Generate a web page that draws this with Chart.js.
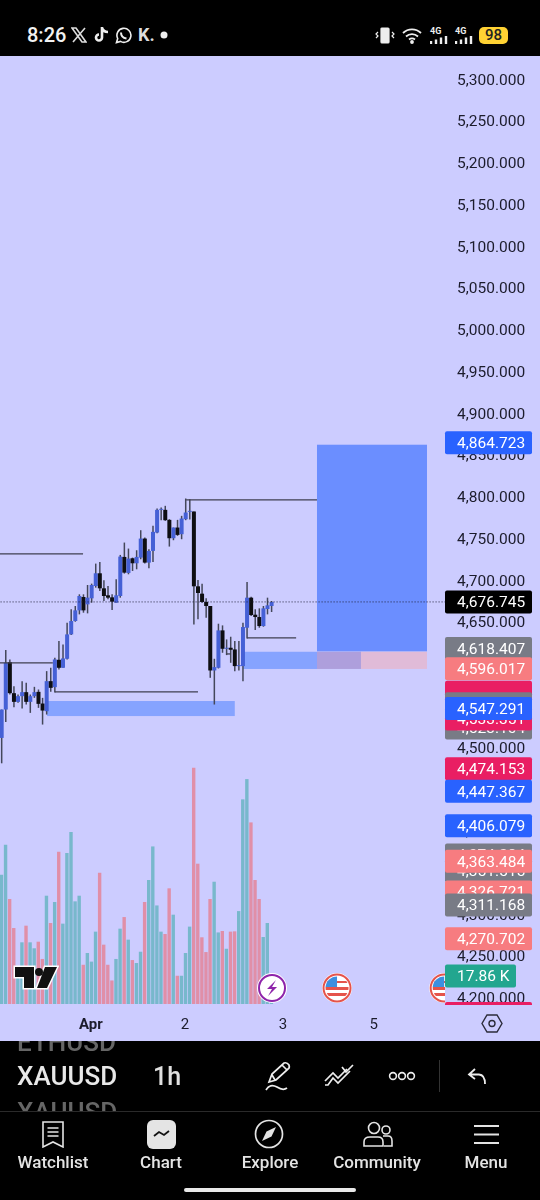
<!DOCTYPE html>
<html>
<head>
<meta charset="utf-8">
<title>XAUUSD 1h</title>
<script src="https://cdn.jsdelivr.net/npm/chart.js@4"></script>
<style>
  html, body { margin: 0; padding: 0; background: #000; }
  body { width: 540px; height: 1200px; position: relative; overflow: hidden; font-family: Roboto, sans-serif; color: #e6e6e6; }
  .abs { position: absolute; white-space: nowrap; }
  #wrap { position: absolute; left: 0; top: 56px; width: 540px; height: 985px; background: #ccccff; }
  .clip { position: absolute; overflow: hidden; left: 17px; width: 120px; }
  .nav { position: absolute; top: 1152px; width: 100px; text-align: center; font-size: 17px; font-weight: 500; color: #e4e4e4; }
  svg { position: absolute; }
</style>
</head>
<body>

<!-- status bar -->
<div class="abs" style="left:27px;top:23px;font-size:20px;font-weight:500;color:#f2f2f2">8:26</div>
<svg style="left:71px;top:27px" width="16" height="16" viewBox="0 0 16 16" fill="none" stroke="#ddd" stroke-width="1.6"><path d="M1 1 L11 15 H15 L5 1 Z M14 1 L2 15"/></svg>
<svg style="left:94px;top:26px" width="15" height="17" viewBox="0 0 15 17" fill="none" stroke="#eee" stroke-width="2.6"><path d="M8 1 V11.5 A3 3 0 1 1 5 8.5 M8 2 C9 5 11 6 14 6"/></svg>
<svg style="left:115px;top:27px" width="17" height="17" viewBox="0 0 17 17" fill="none" stroke="#eee" stroke-width="1.6"><path d="M1.5 15.5 L2.7 11.5 A7 7 0 1 1 5.5 14.4 Z"/><path d="M6 5.5 C6 9 8 11 11.5 11.5" stroke-width="2"/></svg>
<div class="abs" style="left:138px;top:24px;font-size:18px;font-weight:700;color:#ddd">K.</div>
<svg style="left:160px;top:31px" width="8" height="8"><circle cx="4" cy="4" r="3.5" fill="#eee"/></svg>
<svg style="left:375px;top:27px" width="20" height="17" viewBox="0 0 20 17" fill="none" stroke="#eee" stroke-width="1.2"><rect x="6" y="1" width="8" height="15" rx="1" fill="#eee"/><path d="M3 5 L1 7 L3 9 L1 11 M17 5 L19 7 L17 9 L19 11"/></svg>
<svg style="left:402px;top:27px" width="21" height="17" viewBox="0 0 21 17" fill="none" stroke="#eee" stroke-width="1.8"><path d="M1 6 A13 13 0 0 1 19 6 M4 9.5 A9 9 0 0 1 16 9.5 M7 12.5 A5 5 0 0 1 13 12.5"/><circle cx="10" cy="15" r="1" fill="#eee"/></svg>
<div class="abs" style="left:430px;top:26px;font-size:9px;font-weight:700;color:#eee">4G</div>
<svg style="left:430px;top:36px" width="18" height="9"><path d="M1 8V5M6 8V3.5M11 8V1.5M16 8V0" stroke="#eee" stroke-width="2.4"/></svg>
<div class="abs" style="left:455px;top:26px;font-size:9px;font-weight:700;color:#eee">4G</div>
<svg style="left:455px;top:36px" width="18" height="9"><path d="M1 8V5M6 8V3.5M11 8V1.5M16 8V0" stroke="#eee" stroke-width="2.4"/></svg>
<div class="abs" style="left:479px;top:27px;width:29px;height:17px;line-height:17px;background:#ffd233;border-radius:5px;color:#222;font-size:15px;font-weight:500;text-align:center">98</div>

<div id="wrap"><canvas id="chart" width="540" height="985"></canvas></div>

<!-- trading view mark -->
<svg width="46" height="27" viewBox="0 0 46 27" style="left:13px;top:964px">
  <path d="M2 3 H21 V24 H11 V13 H2 Z M32 3 H44 L34 24 H24 Z" fill="#111" stroke="#fff" stroke-width="3" paint-order="stroke"/>
  <circle cx="26" cy="8" r="4" fill="#111"/>
</svg>

<!-- settings hexagon -->
<svg style="left:481px;top:1013px" width="22" height="21" viewBox="0 0 22 21" fill="none" stroke="#2b2b3a" stroke-width="1.4"><path d="M6 2 H16 L21 10.5 L16 19 H6 L1 10.5 Z"/><circle cx="11" cy="10.5" r="3"/></svg>

<!-- symbol strip -->
<div class="clip" style="top:1041px;height:15px;font-size:26px;font-weight:500;color:#666;line-height:15px"><div style="margin-top:-6px">ETHUSD</div></div>
<div class="abs" style="left:17px;top:1061px;font-size:26px;font-weight:500;color:#e8e8e8">XAUUSD</div>
<div class="abs" style="left:153px;top:1062px;font-size:25px;font-weight:500;color:#e0e0e0">1h</div>
<div class="clip" style="top:1098px;height:13px;font-size:26px;font-weight:500;color:#666;line-height:28px">XAUUSD</div>

<svg style="left:262px;top:1060px" width="30" height="34" viewBox="0 0 30 34" fill="none" stroke="#eee" stroke-width="1.7"><path d="M7 22 L10 14 L22 3 Q25 2 27 5 Q28 8 26 9 L14 20 Z M20 5 L25 10 M10 15 L13 20"/><path d="M4 30 Q8 23 15 27 Q21 31 25 28"/></svg>
<svg style="left:323px;top:1062px" width="32" height="26" viewBox="0 0 32 26" fill="none" stroke="#eee" stroke-width="1.7"><path d="M2 19 L10 11 L15 16 L24 7 M2 23 L5 23 L10 16 L15 21 L27 9"/><path d="M19 5 L23 10 L30 3"/></svg>
<svg style="left:388px;top:1070px" width="28" height="12" fill="none" stroke="#eee" stroke-width="1.6"><circle cx="5" cy="6" r="3.4"/><circle cx="14" cy="6" r="3.4"/><circle cx="23" cy="6" r="3.4"/></svg>
<div class="abs" style="left:439px;top:1060px;width:1px;height:32px;background:#333"></div>
<svg style="left:467px;top:1067px" width="20" height="18" fill="none" stroke="#eee" stroke-width="1.8"><path d="M8 2 L2 7.5 L8 12 M2 7.5 H12 Q18 8 18 17"/></svg>
<div class="abs" style="left:0;top:1111px;width:540px;height:1px;background:#2a2a2a"></div>

<!-- bottom navigation -->
<svg style="left:42px;top:1121px" width="22" height="27" viewBox="0 0 22 27" fill="none" stroke="#e4e4e4" stroke-width="1.6"><path d="M1 1 H21 V26 L11 21 L1 26 Z M5.5 7 H16.5 M5.5 11 H16.5 M5.5 15 H16.5"/></svg>
<svg style="left:147px;top:1120px" width="29" height="29" viewBox="0 0 29 29"><rect width="29" height="29" rx="6" fill="#e4e4e4"/><path d="M7 16 L12 12 L17 15 L22 11" fill="none" stroke="#111" stroke-width="1.8"/></svg>
<svg style="left:254px;top:1119px" width="30" height="30" viewBox="0 0 30 30" fill="none" stroke="#e4e4e4" stroke-width="1.7"><circle cx="15" cy="15" r="13.5"/><path d="M22 8 L17.5 17.5 L8 22 L12.5 12.5 Z" fill="#e4e4e4" stroke="none"/></svg>
<svg style="left:363px;top:1121px" width="30" height="26" viewBox="0 0 30 26" fill="none" stroke="#e4e4e4" stroke-width="1.6"><circle cx="11" cy="7" r="5.5"/><circle cx="23" cy="9" r="4"/><path d="M1 25 V21 Q1 16 7 16 H15 Q20 16 20 21 V25 Z M20 15 H25 Q29 15 29 20 V25 H21"/></svg>
<svg style="left:474px;top:1124px" width="25" height="21" fill="none" stroke="#e4e4e4" stroke-width="2.2"><path d="M0 2 H25 M0 10.5 H25 M0 19 H25"/></svg>
<div class="nav" style="left:3px">Watchlist</div>
<div class="nav" style="left:111px">Chart</div>
<div class="nav" style="left:220px">Explore</div>
<div class="nav" style="left:327px">Community</div>
<div class="nav" style="left:436px">Menu</div>
<div class="abs" style="left:184px;top:1188px;width:172px;height:4px;border-radius:2px;background:#e8e8e8"></div>

<script>
// candles, oldest first
const opens = [4511.2,4545.2,4602,4564.8,4554.4,4561.2,4566,4554.4,4561.2,4566.4,4552.4,4543.2,4579.2,4572,4604.8,4595.2,4606,4635.2,4651.2,4664,4680,4671.2,4678.4,4693.2,4708.4,4690.4,4682,4679.6,4673.2,4681.2,4728,4708.8,4726.4,4720.4,4727.2,4750,4721.2,4735.2,4757.2,4784.4,4784.4,4772.4,4750.4,4763.2,4755.2,4773.2,4782,4782.4,4692.8,4684,4674,4669.2,4592,4595.2,4640,4618,4619.2,4617.2,4597.2,4597.2,4643.2,4679.2,4658.8,4656,4645.2,4665.6,4669.2];
const highs = [4545.2,4616.4,4605.2,4573.2,4563.2,4579.2,4577.2,4563.2,4572.4,4569.2,4559.2,4591.2,4595.2,4607.2,4627.2,4623.2,4649.2,4665.2,4669.2,4683.2,4683.2,4694.4,4696,4720,4722,4700,4693.2,4683.2,4701.2,4730.4,4745.2,4738,4727.2,4736,4760,4751.2,4737.2,4765.2,4786,4787.2,4789.2,4773.2,4763.2,4772.4,4777.2,4798,4797.2,4782.4,4700.4,4696,4678.4,4669.2,4606,4648,4646,4629.2,4632.4,4627.2,4627.2,4649.2,4698,4680.4,4665.2,4666.4,4669.2,4679.2,4675.2];
const lows = [4480.8,4530.4,4563.2,4548,4553.2,4546.4,4551.2,4541.2,4559.2,4547.2,4527.2,4539.2,4566.4,4565.6,4593.2,4595.2,4605.2,4634.4,4650.4,4659.2,4661.2,4660.4,4673.2,4691.2,4687.2,4675.2,4677.2,4664.4,4673.2,4679.2,4708,4707.2,4711.2,4713.2,4725.2,4720,4714.4,4722,4756.4,4772,4771.2,4740.4,4748,4753.2,4749.2,4772,4772.8,4647.2,4653.2,4673.2,4655.2,4583.2,4551.2,4594.4,4613.2,4610.4,4601.2,4591.2,4592,4579.2,4630.4,4657.2,4640.4,4643.2,4644.4,4659.2,4662];
const closes = [4545.2,4601.2,4564.8,4554.4,4561.2,4566,4554.4,4561.2,4566,4552,4544,4579.2,4571.2,4605.2,4595.2,4606.4,4635.2,4651.2,4664,4681.2,4664,4679.2,4694.4,4708.4,4690.4,4681.2,4679.2,4674.4,4682,4728.4,4709.2,4726,4720.4,4728,4750,4721.2,4735.2,4758,4784.4,4785.2,4772,4750.4,4763.2,4754.4,4774,4781.2,4782.8,4692.8,4684.8,4674,4669.2,4592,4596,4640,4618,4619.2,4616.8,4597.2,4598,4644,4679.2,4658.4,4656,4645.2,4666.4,4670,4674];
const volumes = [82.4,101.5,66.9,48.4,23,39.3,49.9,39.3,35.5,39.7,28.7,69,51.6,65,97,51.2,96.2,109.6,65.4,69,25,32.5,27,46.1,83.7,37.8,25,15,28.7,48,55.4,41,28,26.1,33.3,65,79,100.4,62.8,46.1,44.6,73.7,56.9,18,18,32.5,49.3,150.5,89.4,42.5,33.1,66.9,77.9,45.6,46.5,35.2,46.1,46.3,59.2,130.4,143.3,115.7,79,66.9,42.7,51.6,17.86];

// axis ticks
const xTickIndex = [21.8, 44.8, 68.8, 91];
const xTickLabels = ["Apr", "2", "3", "5"];

// drawn levels
const levelX0 = [-1, 45.1, 60, -1, 13, 55];
const levelX1 = [19.9, 77.1, 72, 12.5, 48, 56];
const levelP = [4731.7, 4796.4, 4631, 4601, 4566.3, 4611.8];

// boxes
const zoneX0 = [77.1, 87.85, 59, 77.1, 11.1];
const zoneX1 = [104, 104, 77.1, 87.85, 57];
const zoneTop = [4862.4, 4614.4, 4614.4, 4614.4, 4555.4];
const zoneBottom = [4614.8, 4593.8, 4593.8, 4593.8, 4537.4];
const zoneColors = ["#6b8eff", "#e0bbd8", "#86a3ff", "#ae9fdc", "#86a3ff"];

// price tags, painted in this order
const tagPrices = [4864.723, 4674.1, 4618.407, 4594.2, 4566, 4552, 4546, 4523, 4533.8, 4546.5, 4474.153, 4447.367, 4406.079, 4371, 4352, 4363.484, 4326.721, 4311.168, 4270.702, 4181];
const tagLabels = ["4,864.723", "4,676.745", "4,618.407", "4,596.017", "", "", "", "4,523.104", "4,533.351", "4,547.291", "4,474.153", "4,447.367", "4,406.079", "4,374.284", "4,351.515", "4,363.484", "4,326.721", "4,311.168", "4,270.702", "4,184.000"];
const tagColors = ["#2962ff", "#000000", "#787b86", "#f77c80", "#e91e63", "#787b86", "#e91e63", "#787b86", "#e91e63", "#2962ff", "#e91e63", "#2962ff", "#2962ff", "#787b86", "#787b86", "#f77c80", "#f77c80", "#787b86", "#f77c80", "#e91e63"];
const volumeTag = "17.86 K";
const lastPrice = 4674.1;

// event icons
const eventIndex = [66.1, 82, 108.2];

const idx = opens.map((_, i) => i);
const upColor = "#4560d6", downColor = "#0e0e12";
const wickColor = "#44475a", volUp = "#78b8cc", volDown = "#e08fa8";

const levels = levelP.map((p, i) => ({
  type: "line", order: 1, xAxisID: "x", yAxisID: "y",
  data: [{x: levelX0[i], y: p}, {x: levelX1[i], y: p}],
  borderColor: "#3f3f50", borderWidth: 1.3, pointRadius: 0
}));

function drawBolt(c, x, y) {
  c.beginPath(); c.arc(x, y, 15, 0, Math.PI * 2); c.fillStyle = "#fff"; c.fill();
  c.beginPath(); c.arc(x, y, 13, 0, Math.PI * 2); c.strokeStyle = "#8e24aa"; c.lineWidth = 2; c.stroke();
  c.beginPath(); c.moveTo(x + 4, y - 8); c.lineTo(x - 5, y + 1); c.lineTo(x, y + 1); c.lineTo(x - 4, y + 8);
  c.lineTo(x + 5, y - 1); c.lineTo(x, y - 1); c.closePath(); c.fillStyle = "#8e24aa"; c.fill();
}

function drawFlag(c, x, y) {
  c.save();
  c.beginPath(); c.arc(x, y, 15, 0, Math.PI * 2); c.fillStyle = "#fff"; c.fill();
  c.beginPath(); c.arc(x, y, 13.5, 0, Math.PI * 2); c.strokeStyle = "#e5534b"; c.lineWidth = 2; c.stroke();
  c.beginPath(); c.arc(x, y, 11.5, 0, Math.PI * 2); c.clip();
  c.fillStyle = "#e5534b";
  c.fillRect(x - 12, y - 1, 24, 3); c.fillRect(x - 12, y + 5, 24, 3); c.fillRect(x - 12, y - 7, 24, 2);
  c.fillStyle = "#3d8fe0"; c.fillRect(x - 12, y - 12, 12, 11);
  c.restore();
}

const overlays = {
  id: "overlays",
  beforeDatasetsDraw(chart) {
    const c = chart.ctx, sx = chart.scales.x, sy = chart.scales.y;
    zoneColors.forEach((col, i) => {
      const x0 = sx.getPixelForValue(zoneX0[i]), x1 = sx.getPixelForValue(zoneX1[i]);
      const y0 = sy.getPixelForValue(zoneTop[i]), y1 = sy.getPixelForValue(zoneBottom[i]);
      c.fillStyle = col;
      c.fillRect(x0, y0, x1 - x0, y1 - y0);
    });
  },
  afterDatasetsDraw(chart) {
    const c = chart.ctx, sx = chart.scales.x, sy = chart.scales.y, a = chart.chartArea;
    const iconY = a.bottom - 16;
    c.save();
    c.beginPath(); c.rect(0, 0, a.right, a.bottom); c.clip();
    drawBolt(c, sx.getPixelForValue(eventIndex[0]), iconY);
    drawFlag(c, sx.getPixelForValue(eventIndex[1]), iconY);
    drawFlag(c, sx.getPixelForValue(eventIndex[2]), iconY);
    c.restore();

    c.save();
    c.beginPath(); c.rect(0, 0, 540, a.bottom + 1); c.clip();
    c.font = "15.5px Roboto";
    c.textBaseline = "middle";
    tagPrices.forEach((p, i) => {
      const y = sy.getPixelForValue(p);
      c.fillStyle = tagColors[i];
      c.beginPath(); c.roundRect(445, y - 11.5, 87, 23, 2); c.fill();
      c.fillStyle = "#fff";
      c.fillText(tagLabels[i], 457, y + 1.5);
      if (i === 17) {
        // volume tag sits between these in the stack
        const vy = chart.scales.yVol.getPixelForValue(volumes[volumes.length - 1]);
        c.fillStyle = "#22a68f";
        c.beginPath(); c.roundRect(445, vy - 11.5, 71, 23, 2); c.fill();
        c.fillStyle = "#fff";
        c.fillText(volumeTag, 457, vy + 1.5);
      }
    });
    c.restore();
  }
};

new Chart(document.getElementById("chart"), {
  type: "bar",
  data: {
    datasets: [
      ...levels,
      {
        type: "line", order: 1, xAxisID: "x", yAxisID: "y",
        data: [{x: -1, y: lastPrice}, {x: 110, y: lastPrice}],
        borderColor: "#24243a", borderWidth: 1, borderDash: [1, 2], pointRadius: 0
      },
      {
        label: "body", order: 2, xAxisID: "x", yAxisID: "y", grouped: false,
        data: idx.map(i => ({x: i, y: [opens[i], closes[i]]})),
        backgroundColor: idx.map(i => closes[i] >= opens[i] ? upColor : downColor),
        barThickness: 4, inflateAmount: 0, minBarLength: 1
      },
      {
        label: "wick", order: 3, xAxisID: "x", yAxisID: "y", grouped: false,
        data: idx.map(i => ({x: i, y: [lows[i], highs[i]]})),
        backgroundColor: wickColor,
        barThickness: 1.5, inflateAmount: 0
      },
      {
        label: "volume", order: 4, xAxisID: "x", yAxisID: "yVol", grouped: false,
        data: idx.map(i => ({x: i - 0.05, y: volumes[i]})),
        backgroundColor: idx.map(i => closes[i] >= opens[i] ? volUp : volDown),
        barThickness: 3.4, inflateAmount: 0
      }
    ]
  },
  options: {
    responsive: false,
    animation: false,
    devicePixelRatio: 1,
    layout: { padding: 0 },
    plugins: { legend: { display: false }, tooltip: { enabled: false } },
    scales: {
      x: {
        type: "linear", offset: false, min: -0.41, max: 108.4,
        grid: { display: false }, border: { display: false },
        afterFit(s) { s.height = 37; s.paddingLeft = 0; s.paddingRight = 0; },
        afterBuildTicks(s) { s.ticks = xTickIndex.map(v => ({ value: v })); },
        ticks: {
          autoSkip: false, maxRotation: 0, padding: 4, color: "#1c1c2c",
          font: ctx => ({ family: "Roboto", size: 15, weight: ctx.index === 0 ? "bold" : "normal" }),
          callback: v => xTickLabels[xTickIndex.indexOf(v)]
        }
      },
      y: {
        position: "right", min: 4192.5, max: 5328,
        grid: { display: false, drawTicks: false }, border: { display: false },
        afterFit(s) { s.width = 95; s.paddingTop = 0; s.paddingBottom = 0; },
        ticks: {
          stepSize: 50, includeBounds: false, autoSkip: false, padding: 12, color: "#1c1c2c",
          // empty first line with a tiny line height nudges the digits down to the tick centre
          font: { family: "Roboto", size: 15.5, lineHeight: "3px" },
          callback: v => ["", v.toLocaleString("en-US", { minimumFractionDigits: 3, maximumFractionDigits: 3 })]
        }
      },
      yVol: { display: false, position: "left", min: 0, max: 604 }
    }
  },
  plugins: [overlays]
});
</script>
</body>
</html>
